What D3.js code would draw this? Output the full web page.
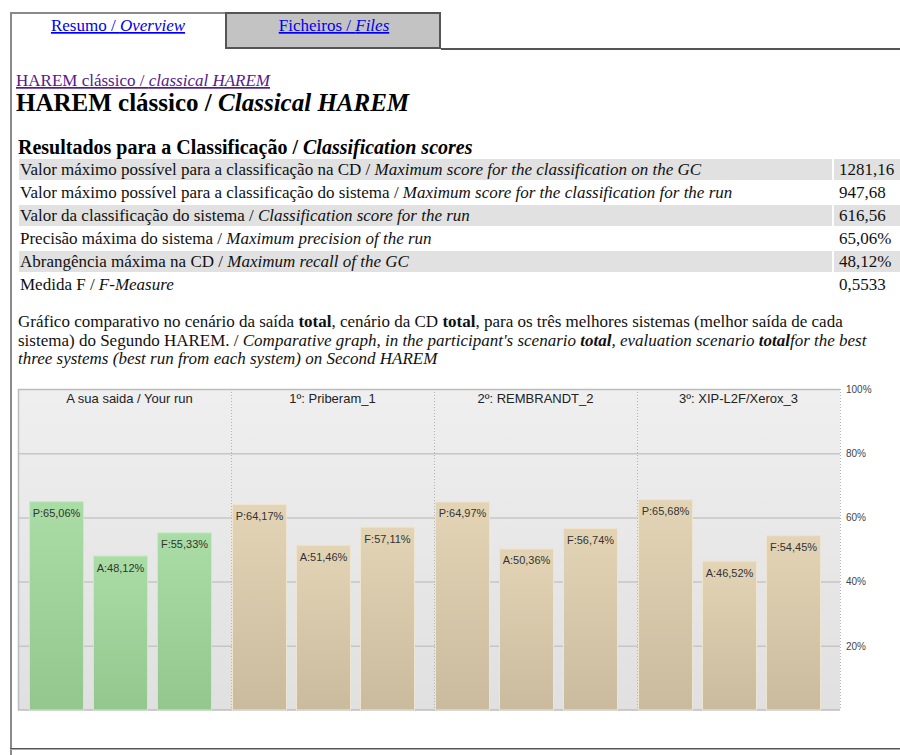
<!DOCTYPE html>
<html>
<head>
<meta charset="utf-8">
<script src="https://cdn.jsdelivr.net/npm/d3@7"></script>
<style>
  body { margin: 0; background: #fff; }
  svg { display: block; }
  .serif { font-family: "Liberation Serif", "Times New Roman", serif; }
  .sans { font-family: "Liberation Sans", Arial, sans-serif; }
</style>
</head>
<body>
<div id="page"></div>
<script>
// page texts
const tabLabels = [[["Resumo / ", ""], ["Overview", "i"]], [["Ficheiros / ", ""], ["Files", "i"]]];
const scoreLabelsPt = [
  "Valor máximo possível para a classificação na CD",
  "Valor máximo possível para a classificação do sistema",
  "Valor da classificação do sistema",
  "Precisão máxima do sistema",
  "Abrangência máxima na CD",
  "Medida F",
];
const scoreLabelsEn = [
  "Maximum score for the classification on the GC",
  "Maximum score for the classification for the run",
  "Classification score for the run",
  "Maximum precision of the run",
  "Maximum recall of the GC",
  "F-Measure",
];
const scoreValues = ["1281,16", "947,68", "616,56", "65,06%", "48,12%", "0,5533"];

// chart data
const groupNames = ["A sua saida / Your run", "1º: Priberam_1", "2º: REMBRANDT_2", "3º: XIP-L2F/Xerox_3"];
const measures = ["P", "A", "F"];
const precision = [65.06, 64.17, 64.97, 65.68];
const recall = [48.12, 51.46, 50.36, 46.52];
const fMeasure = [55.33, 57.11, 56.74, 54.45];
const yTicks = [20, 40, 60, 80, 100];

const width = 900;
const height = 755;

const svg = d3.select("#page").append("svg").attr("width", width).attr("height", height);

const richText = (g, x, y, segs, size, anchor = "start") => {
  const t = g.append("text").attr("x", x).attr("y", y)
    .attr("class", "serif").attr("font-size", size).attr("text-anchor", anchor);
  segs.forEach(([txt, st]) => {
    t.append("tspan").text(txt)
      .attr("font-style", st.includes("i") ? "italic" : "normal")
      .attr("font-weight", st.includes("b") ? "bold" : "normal");
  });
  return t;
};

// ---- tabs and panel frame
svg.append("rect").attr("x", 226).attr("y", 13).attr("width", 214).attr("height", 35)
  .attr("fill", "#c3c3c3").attr("stroke", "#555").attr("stroke-width", 2);
svg.append("path").attr("d", "M11,755 V13 H225")
  .attr("fill", "none").attr("stroke", "#8a8a8a").attr("stroke-width", 2);
svg.append("line").attr("x1", 441).attr("x2", width).attr("y1", 49).attr("y2", 49)
  .attr("stroke", "#555").attr("stroke-width", 2);

[[118, 0], [334, 1]].forEach(([cx, i]) => {
  richText(svg, cx, 31, tabLabels[i], 17, "middle")
    .attr("fill", "#0000ee").attr("text-decoration", "underline");
});

richText(svg, 16, 86, [["HAREM clássico / ", ""], ["classical HAREM", "i"]], 17)
  .attr("fill", "#551a8b").attr("text-decoration", "underline");
richText(svg, 16, 111, [["HAREM clássico / ", "b"], ["Classical HAREM", "bi"]], 25);
richText(svg, 18, 154, [["Resultados para a Classificação / ", "b"], ["Classification scores", "bi"]], 20);

// ---- score table
const rowTop = (i) => 159 + i * 23;
const table = svg.append("g");
scoreValues.forEach((v, i) => {
  if (i % 2 === 0) {
    table.append("rect").attr("x", 19).attr("y", rowTop(i)).attr("width", 813).attr("height", 21).attr("fill", "#e1e1e1");
    table.append("rect").attr("x", 834).attr("y", rowTop(i)).attr("width", 66).attr("height", 21).attr("fill", "#e1e1e1");
  }
  richText(table, 20, rowTop(i) + 16, [[scoreLabelsPt[i] + " / ", ""], [scoreLabelsEn[i], "i"]], 17).attr("fill", "#111");
  richText(table, 839, rowTop(i) + 16, [[v, ""]], 17).attr("fill", "#111");
});

// ---- description paragraph
const para = [
  [["Gráfico comparativo no cenário da saída ", ""], ["total", "b"], [", cenário da CD ", ""], ["total", "b"],
   [", para os três melhores sistemas (melhor saída de cada", ""]],
  [["sistema) do Segundo HAREM. / ", ""], ["Comparative graph, in the participant's scenario ", "i"], ["total", "bi"],
   [", evaluation scenario ", "i"], ["total", "bi"], ["for the best", "i"]],
  [["three systems (best run from each system) on Second HAREM", "i"]],
];
para.forEach((segs, i) => richText(svg, 18, 327 + i * 18.5, segs, 17).attr("fill", "#111"));

// ---- chart
const plot = { left: 18, right: 840, top: 389, bottom: 710 };
const chart = svg.append("g").attr("class", "sans");

const defs = svg.append("defs");
const bgGrad = defs.append("linearGradient").attr("id", "bg").attr("x1", 0).attr("x2", 0).attr("y1", 0).attr("y2", 1);
bgGrad.append("stop").attr("offset", "0%").attr("stop-color", "#efefef");
bgGrad.append("stop").attr("offset", "100%").attr("stop-color", "#e0e0e0");
const addBarGrad = (id, top, bottom) => {
  const g = defs.append("linearGradient").attr("id", id).attr("x1", 0).attr("x2", 0).attr("y1", 0).attr("y2", 1);
  g.append("stop").attr("offset", "0%").attr("stop-color", top);
  g.append("stop").attr("offset", "100%").attr("stop-color", bottom);
};
addBarGrad("green", "#a9dda5", "#93c78e");
addBarGrad("tan", "#e4d4b6", "#cbbb9e");

chart.append("rect").attr("x", plot.left).attr("y", plot.top)
  .attr("width", plot.right - plot.left).attr("height", plot.bottom - plot.top)
  .attr("fill", "url(#bg)");

const y = d3.scaleLinear().domain([0, 100]).range([plot.bottom, plot.top]);
const x0 = d3.scaleBand().domain(groupNames).range([28, plot.right]);
const x1 = d3.scaleBand().domain(measures).range([1, 184]).paddingInner(9 / 64).paddingOuter(0);

// gridlines
chart.append("g")
  .selectAll("line")
  .data(yTicks.filter((t) => t < 100))
  .enter()
  .append("line")
  .attr("x1", plot.left).attr("x2", plot.right)
  .attr("y1", (d) => y(d) + 0.5).attr("y2", (d) => y(d) + 0.5)
  .attr("stroke", "#c6c6c6").attr("stroke-width", 1.5);

// frame
chart.append("path")
  .attr("d", `M${plot.right},${plot.top + 0.5} H${plot.left + 0.5} V${plot.bottom} H${plot.right}`)
  .attr("fill", "none").attr("stroke", "#bdbdbd").attr("stroke-width", 1.5);

// group separators
chart.append("g")
  .selectAll("line")
  .data(groupNames.slice(1).map((g) => x0(g)).concat([plot.right]))
  .enter()
  .append("line")
  .attr("x1", (d) => d + 0.5).attr("x2", (d) => d + 0.5)
  .attr("y1", plot.top).attr("y2", plot.bottom)
  .attr("stroke", "#b4b4b4").attr("stroke-dasharray", "1,2");

// group titles
chart.append("g")
  .selectAll("text")
  .data(groupNames)
  .enter()
  .append("text")
  .attr("x", (d) => x0(d) + x0.bandwidth() / 2)
  .attr("y", 403)
  .attr("text-anchor", "middle")
  .attr("font-size", 13)
  .attr("fill", "#222")
  .text((d) => d);

// bars
const fmt = (v) => d3.format(".2f")(v).replace(".", ",") + "%";
const barData = [];
groupNames.forEach((g, gi) => {
  [precision, recall, fMeasure].forEach((series, mi) => {
    barData.push({ group: g, measure: measures[mi], value: series[gi], own: gi === 0 });
  });
});

const bars = chart.append("g")
  .selectAll("g")
  .data(barData)
  .enter()
  .append("g")
  .attr("transform", (d) => `translate(${x0(d.group) + x1(d.measure)},0)`);

bars.append("rect")
  .attr("x", 0.5)
  .attr("y", (d) => y(d.value) + 0.5)
  .attr("width", x1.bandwidth() - 1)
  .attr("height", (d) => plot.bottom - y(d.value) - 0.5)
  .attr("fill", (d) => (d.own ? "url(#green)" : "url(#tan)"))
  .attr("stroke", (d) => (d.own ? "#c6ecc2" : "#efe4d0"))
  .attr("stroke-width", 1);

bars.append("text")
  .attr("x", x1.bandwidth() / 2)
  .attr("y", (d) => y(d.value) + 16)
  .attr("text-anchor", "middle")
  .attr("font-size", 11)
  .attr("fill", "#333")
  .text((d) => `${d.measure}:${fmt(d.value)}`);

// y axis labels on the right
const axis = chart.append("g")
  .attr("transform", `translate(${plot.right},0)`)
  .call(d3.axisRight(y).tickValues(yTicks).tickSize(0).tickPadding(6).tickFormat((d) => d + "%"));
axis.select(".domain").remove();
axis.selectAll("text")
  .attr("font-family", "Liberation Sans, Arial, sans-serif")
  .attr("font-size", 10)
  .attr("fill", "#444");

// bottom rule
svg.append("line").attr("x1", 10).attr("x2", width).attr("y1", 748.5).attr("y2", 748.5)
  .attr("stroke", "#555").attr("stroke-width", 1);
svg.append("line").attr("x1", 10).attr("x2", width).attr("y1", 749.5).attr("y2", 749.5)
  .attr("stroke", "#aaa").attr("stroke-width", 1);
</script>
</body>
</html>
